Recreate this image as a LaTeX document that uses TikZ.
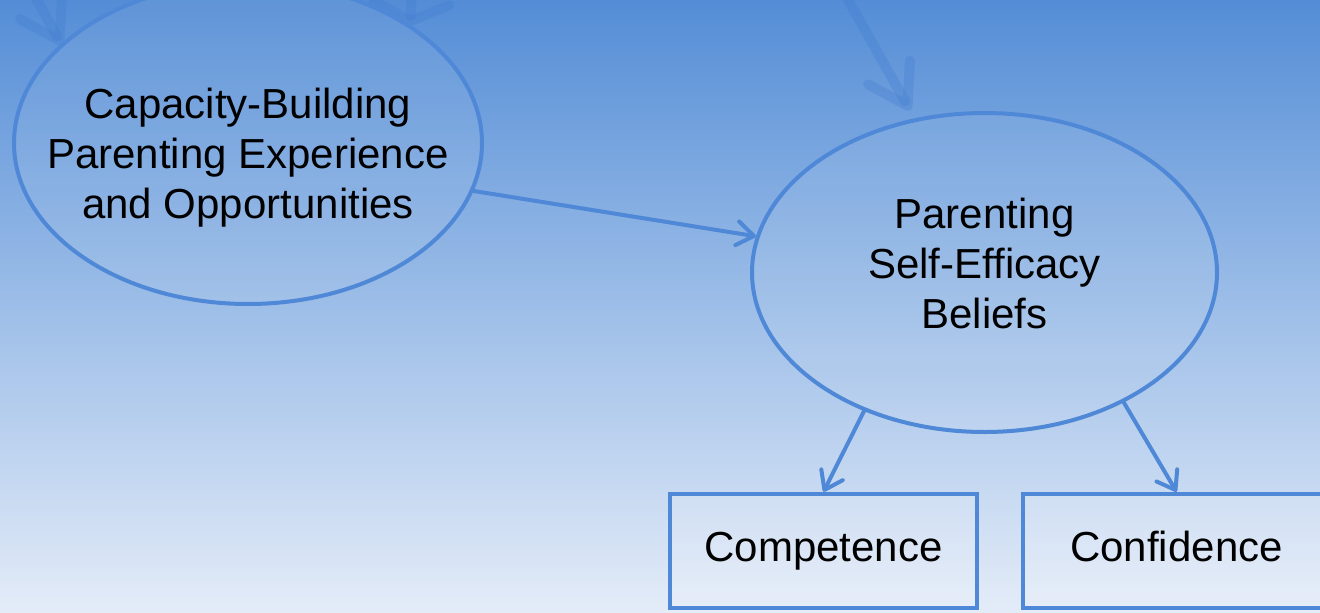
\documentclass[tikz,border=0pt]{standalone}
\usepackage{fontspec}
\setmainfont{Liberation Sans}
\usetikzlibrary{arrows.meta,shapes.geometric}
\definecolor{bgtop}{HTML}{548DD6}
\definecolor{bgmid}{HTML}{9DBEE8}
\definecolor{bgbot}{HTML}{E4ECF8}
\definecolor{lineblue}{HTML}{4F88D6}
\definecolor{faintblue}{HTML}{3F7BD0}
\tikzset{
  ellbox/.style={ellipse, draw=lineblue, line width=4pt, fill=white, fill opacity=0.07, inner sep=0pt},
  rectbox/.style={rectangle, draw=lineblue, line width=4.5pt, fill=white, fill opacity=0.14, inner sep=0pt,
    minimum width=307pt, minimum height=114pt},
  txt/.style={align=center, inner sep=0pt, font=\fontsize{42}{50}\selectfont, text=black},
  boxtxt/.style={inner sep=0pt, font=\fontsize{42}{50}\selectfont, text=black, text height=30pt, text depth=9pt},
  link/.style={draw=lineblue, line width=4pt, line cap=round, -{Straight Barb[length=17pt,width=24pt,round]}},
  faint/.style={draw=faintblue, draw opacity=0.3, line width=10pt, line cap=round, -{Straight Barb[length=38pt,width=48pt,round]}}
}
\begin{document}
\begin{tikzpicture}[x=1pt,y=-1pt]
\useasboundingbox (0,0) rectangle (1320,613);
\clip (0,0) rectangle (1320,613);
\shade[top color=bgtop, bottom color=bgbot, middle color=bgmid] (0,0) rectangle (1320,613);

% faint arrows coming from above the picture
\coordinate (f1s) at (20,-30);
\coordinate (f1e) at (62,45);
\coordinate (f2s) at (415,-60);
\coordinate (f2e) at (410,26);
\coordinate (f3s) at (820,-50);
\coordinate (f3e) at (910,110);
\draw[faint] (f1s) -- (f1e);
\draw[faint, -{Straight Barb[length=18pt,width=76pt,round]}] (f2s) -- (f2e);
\draw[faint] (f3s) -- (f3e);

% ellipses
\node[ellbox, minimum width=468pt, minimum height=322pt] (cap) at (248,143) {};
\node[txt] (captext) at (248,157.5) {Capacity-Building\\Parenting Experience\\and Opportunities};
\node[ellbox, minimum width=465pt, minimum height=319pt] (pse) at (984.5,272.5) {};
\node[txt] (psetext) at (984.5,263) {Parenting\\Self-Efficacy\\Beliefs};

% boxes
\node[rectbox] (comp) at (823.5,551) {};
\node[boxtxt] (comptext) at (823.5,551) {Competence};
\node[rectbox] (conf) at (1176.5,551) {};
\node[boxtxt] (conftext) at (1176.5,551) {Confidence};

% connectors
\draw[link] (cap.-12.7) -- (pse.171.8);
\draw[link] (pse.229.9) -- (comp.north);
\draw[link] (pse.-43.5) -- (conf.north);
\end{tikzpicture}
\end{document}
